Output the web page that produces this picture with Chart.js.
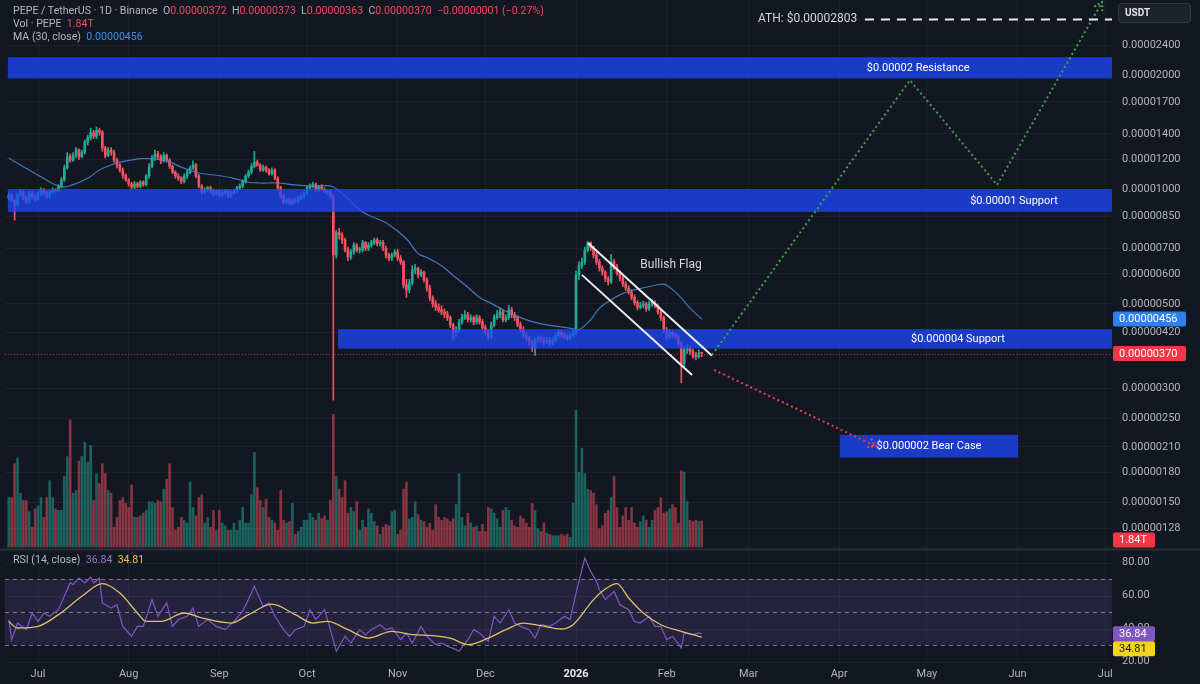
<!DOCTYPE html>
<html>
<head>
<meta charset="utf-8">
<title>PEPE / TetherUS 1D</title>
<script src="https://cdn.jsdelivr.net/npm/chart.js@4.4.1/dist/chart.umd.min.js"></script>
<style>
  html, body { margin:0; padding:0; background:#131722; }
  #wrap { position:relative; width:1200px; height:684px; overflow:hidden; background:#131722; }
  #c { position:absolute; left:0; top:0; }
  .hdr { position:absolute; left:13px; font-family: Roboto, "Noto Sans", sans-serif; font-size:10.6px; color:#b2b5be; white-space:nowrap; line-height:12px; }
  .rd { color:#ef4b5a; } .bl { color:#3d8fe8; } .pu { color:#9575cd; } .ye { color:#e8c547; }
</style>
</head>
<body>
<div id="wrap">
  <canvas id="c" width="1200" height="684"></canvas>
  <div class="hdr" style="top:5px">PEPE / TetherUS · 1D · Binance&nbsp; O<span class="rd">0.00000372</span>&nbsp; H<span class="rd">0.00000373</span>&nbsp; L<span class="rd">0.00000363</span>&nbsp; C<span class="rd">0.00000370</span>&nbsp; <span class="rd">−0.00000001 (−0.27%)</span></div>
  <div class="hdr" style="top:18px">Vol · PEPE&nbsp; <span class="rd">1.84T</span></div>
  <div class="hdr" style="top:31px">MA (30, close)&nbsp; <span class="bl">0.00000456</span></div>
  <div class="hdr" style="top:554px">RSI (14, close)&nbsp; <span class="pu">36.84</span>&nbsp; <span class="ye">34.81</span></div>
</div>
<script>
// ---------------- DATA (prices in micro-USDT, i.e. value x 1e-6) ----------------
// Day index: 0 = 1 Jul 2025. First candle = 21 Jun 2025, last = 13 Feb 2026.
const FIRST_DAY = -10;
const PRICE_UNIT = 1e-6;

const opens = [9.5, 9.67, 9.38, 9.10, 9.67, 9.85, 9.5, 9.27, 9.8, 9.6,
 9.45, 9.73, 9.97, 9.8, 9.6, 9.85, 9.97, 9.9, 10.2, 10.6,
 11.4, 12.2, 11.95, 12.3, 12.7, 12.2, 12.55, 13.3, 13.7, 14.1,
 13.8, 14.3, 14.15, 12.85, 12.3, 12.7, 12.55, 11.95, 11.6, 11.25,
 10.9, 10.6, 10.35, 10.15, 10.35, 10.2, 10.45, 10.3, 10.85, 11.5,
 12.1, 12.4, 12.2, 11.9, 12.3, 11.95, 11.5, 11.1, 10.85, 10.7,
 10.5, 10.85, 11.1, 11.4, 11.6, 10.85, 10.2, 9.85, 10.0, 10.1,
 9.9, 9.73, 9.85, 9.67, 9.8, 9.9, 9.6, 9.8, 9.9, 10.1,
 10.2, 10.5, 10.85, 11.1, 11.5, 11.8, 11.6, 11.25, 11.45, 11.25,
 11.0, 11.25, 10.7, 10.1, 9.6, 9.27, 9.38, 9.2, 9.38, 9.27,
 9.5, 9.6, 9.8, 10.1, 10.2, 10.3, 9.97, 10.15, 10.0, 9.85,
 9.85, 9.55, 6.72, 7.7, 7.6, 7.36, 6.93, 6.63, 6.85, 7.14,
 6.93, 6.93, 7.25, 7.0, 7.14, 7.25, 7.36, 7.2, 7.25, 7.0,
 6.72, 6.6, 6.72, 6.85, 6.6, 6.45, 5.61, 5.44, 5.68, 6.14,
 6.2, 5.96, 6.06, 5.78, 5.5, 5.18, 5.0, 4.9, 4.82, 4.76,
 4.7, 4.6, 4.40, 4.2, 4.27, 4.48, 4.6, 4.68, 4.54, 4.6,
 4.48, 4.6, 4.48, 4.33, 4.2, 4.1, 4.40, 4.6, 4.68, 4.76,
 4.54, 4.6, 4.82, 4.68, 4.6, 4.40, 4.27, 4.14, 4.06, 3.97,
 3.82, 4.02, 4.06, 4.02, 3.97, 4.02, 3.94, 4.02, 4.12, 4.2,
 4.14, 4.1, 4.06, 4.14, 4.2, 5.96, 6.3, 6.45, 6.93, 7.25,
 7.0, 6.72, 6.45, 6.2, 6.06, 5.82, 5.72, 6.45, 6.25, 6.02,
 5.85, 5.64, 5.5, 5.37, 5.2, 5.04, 4.9, 4.94, 5.0, 4.85,
 4.99, 5.04, 4.94, 4.76, 4.6, 4.27, 4.1, 4.2, 4.14, 4.1,
 3.94, 3.48, 3.78, 3.82, 3.74, 3.64, 3.63, 3.72];

const highs = [9.8, 9.75, 9.45, 9.75, 10.0, 9.95, 9.6, 9.9, 9.9, 9.7,
 9.85, 10.1, 10.05, 9.9, 9.95, 10.1, 10.05, 10.3, 10.75, 11.6,
 12.5, 12.4, 12.5, 12.9, 12.8, 12.7, 13.5, 13.9, 14.5, 14.3,
 14.6, 14.5, 14.3, 13.0, 12.9, 12.9, 12.7, 12.1, 11.7, 11.4,
 11.0, 10.7, 10.45, 10.5, 10.45, 10.55, 10.55, 10.95, 11.7, 12.3,
 12.7, 12.6, 12.35, 12.5, 12.4, 12.05, 11.6, 11.2, 11.0, 10.8,
 11.0, 11.25, 11.55, 11.9, 11.7, 10.95, 10.3, 10.1, 10.2, 10.2,
 10.0, 9.95, 9.95, 9.9, 10.0, 9.95, 9.9, 10.0, 10.2, 10.35,
 10.6, 10.95, 11.25, 11.7, 12.6, 11.95, 11.7, 11.6, 11.55, 11.35,
 11.4, 11.35, 10.8, 10.2, 9.7, 9.5, 9.5, 9.45, 9.5, 9.6,
 9.7, 9.9, 10.2, 10.35, 10.45, 10.4, 10.25, 10.3, 10.1, 10.0,
 9.95, 9.7, 7.8, 7.9, 7.7, 7.45, 7.05, 6.95, 7.25, 7.2,
 7.05, 7.35, 7.3, 7.25, 7.35, 7.45, 7.45, 7.35, 7.35, 7.1,
 6.8, 6.8, 6.95, 6.95, 6.7, 6.5, 5.8, 5.8, 6.3, 6.35,
 6.25, 6.15, 6.1, 5.85, 5.6, 5.25, 5.1, 5.0, 4.95, 4.85,
 4.78, 4.65, 4.45, 4.35, 4.55, 4.7, 4.8, 4.75, 4.68, 4.65,
 4.68, 4.66, 4.55, 4.4, 4.28, 4.48, 4.68, 4.8, 4.88, 4.82,
 4.68, 4.95, 4.9, 4.75, 4.65, 4.48, 4.35, 4.2, 4.12, 4.02,
 4.08, 4.12, 4.12, 4.08, 4.08, 4.08, 4.08, 4.18, 4.28, 4.25,
 4.2, 4.15, 4.2, 4.28, 6.1, 6.45, 6.6, 7.05, 7.3, 7.28,
 7.1, 6.85, 6.55, 6.3, 6.12, 5.9, 6.75, 6.55, 6.35, 6.1,
 5.92, 5.72, 5.58, 5.45, 5.28, 5.1, 5.05, 5.08, 5.05, 5.08,
 5.15, 5.1, 5.0, 4.82, 4.65, 4.33, 4.28, 4.25, 4.2, 4.15,
 3.98, 3.85, 3.9, 3.88, 3.8, 3.72, 3.78, 3.73];

const lows = [9.4, 9.3, 8.3, 9.05, 9.6, 9.4, 9.15, 9.2, 9.5, 9.35,
 9.4, 9.65, 9.7, 9.5, 9.5, 9.75, 9.8, 9.85, 10.1, 10.5,
 11.3, 11.8, 11.85, 12.1, 12.0, 12.1, 12.4, 13.1, 13.5, 13.6,
 13.6, 13.9, 12.6, 12.1, 12.2, 12.3, 11.8, 11.4, 11.1, 10.7,
 10.5, 10.2, 10.0, 10.05, 10.1, 10.1, 10.2, 10.2, 10.7, 11.4,
 11.9, 12.0, 11.7, 11.8, 11.8, 11.35, 11.0, 10.7, 10.55, 10.35,
 10.4, 10.7, 11.0, 11.3, 10.75, 10.1, 9.7, 9.75, 9.9, 9.8,
 9.6, 9.65, 9.55, 9.6, 9.7, 9.5, 9.5, 9.7, 9.8, 10.0,
 10.1, 10.4, 10.75, 11.0, 11.4, 11.5, 11.15, 11.15, 11.1, 10.9,
 10.9, 10.6, 10.0, 9.5, 9.15, 9.15, 9.1, 9.1, 9.2, 9.2,
 9.4, 9.5, 9.7, 10.0, 10.1, 9.9, 9.9, 9.95, 9.8, 9.7,
 9.45, 2.79, 6.6, 7.4, 7.2, 6.85, 6.5, 6.55, 6.75, 6.85,
 6.8, 6.85, 6.9, 6.9, 7.05, 7.15, 7.1, 7.1, 6.9, 6.6,
 6.5, 6.5, 6.65, 6.5, 6.35, 5.5, 5.2, 5.35, 5.6, 6.0,
 5.85, 5.9, 5.7, 5.4, 5.1, 4.9, 4.8, 4.75, 4.68, 4.6,
 4.52, 4.33, 4.02, 4.1, 4.2, 4.42, 4.55, 4.48, 4.48, 4.4,
 4.42, 4.42, 4.28, 4.12, 4.02, 4.05, 4.35, 4.55, 4.6, 4.48,
 4.48, 4.55, 4.6, 4.52, 4.35, 4.2, 4.08, 4.0, 3.9, 3.75,
 3.66, 3.95, 3.96, 3.9, 3.92, 3.88, 3.9, 3.98, 4.06, 4.08,
 4.04, 4.0, 4.02, 4.1, 4.15, 5.8, 6.2, 6.35, 6.85, 6.9,
 6.6, 6.35, 6.1, 5.95, 5.72, 5.6, 5.65, 6.15, 5.95, 5.75,
 5.55, 5.42, 5.3, 5.12, 4.96, 4.82, 4.85, 4.88, 4.78, 4.8,
 4.92, 4.88, 4.7, 4.52, 4.2, 4.02, 4.05, 4.08, 4.02, 3.88,
 3.1, 3.42, 3.7, 3.68, 3.6, 3.56, 3.6, 3.63];

const closes = [9.67, 9.38, 9.10, 9.67, 9.85, 9.5, 9.27, 9.8, 9.6, 9.45,
 9.73, 9.97, 9.8, 9.6, 9.85, 9.97, 9.9, 10.2, 10.6, 11.4,
 12.2, 11.95, 12.3, 12.7, 12.2, 12.55, 13.3, 13.7, 14.1, 13.8,
 14.3, 14.15, 12.85, 12.3, 12.7, 12.55, 11.95, 11.6, 11.25, 10.9,
 10.6, 10.35, 10.15, 10.35, 10.2, 10.45, 10.3, 10.85, 11.5, 12.1,
 12.4, 12.2, 11.9, 12.3, 11.95, 11.5, 11.1, 10.85, 10.7, 10.5,
 10.85, 11.1, 11.4, 11.6, 10.85, 10.2, 9.85, 10.0, 10.1, 9.9,
 9.73, 9.85, 9.67, 9.8, 9.9, 9.6, 9.8, 9.9, 10.1, 10.2,
 10.5, 10.85, 11.1, 11.5, 11.8, 11.6, 11.25, 11.45, 11.25, 11.0,
 11.25, 10.7, 10.1, 9.6, 9.27, 9.38, 9.2, 9.38, 9.27, 9.5,
 9.6, 9.8, 10.1, 10.2, 10.3, 9.97, 10.15, 10.0, 9.85, 9.85,
 9.55, 6.72, 7.7, 7.6, 7.36, 6.93, 6.63, 6.85, 7.14, 6.93,
 6.93, 7.25, 7.0, 7.14, 7.25, 7.36, 7.2, 7.25, 7.0, 6.72,
 6.6, 6.72, 6.85, 6.6, 6.45, 5.61, 5.44, 5.68, 6.14, 6.2,
 5.96, 6.06, 5.78, 5.5, 5.18, 5.0, 4.9, 4.82, 4.76, 4.7,
 4.6, 4.40, 4.2, 4.27, 4.48, 4.6, 4.68, 4.54, 4.6, 4.48,
 4.6, 4.48, 4.33, 4.2, 4.1, 4.40, 4.6, 4.68, 4.76, 4.54,
 4.6, 4.82, 4.68, 4.6, 4.40, 4.27, 4.14, 4.06, 3.97, 3.82,
 4.02, 4.06, 4.02, 3.97, 4.02, 3.94, 4.02, 4.12, 4.2, 4.14,
 4.1, 4.06, 4.14, 4.2, 5.96, 6.3, 6.45, 6.93, 7.25, 7.0,
 6.72, 6.45, 6.2, 6.06, 5.82, 5.72, 6.45, 6.25, 6.02, 5.85,
 5.64, 5.5, 5.37, 5.2, 5.04, 4.9, 4.94, 5.0, 4.85, 4.99,
 5.04, 4.94, 4.76, 4.6, 4.27, 4.1, 4.2, 4.14, 4.1, 3.94,
 3.48, 3.78, 3.82, 3.74, 3.64, 3.63, 3.72, 3.70];

// Volume in trillions of PEPE
const volumes = [3.5, 3.5, 5.9, 6.3, 3.8, 3.3, 3.3, 2.5, 1.4, 2.7, 2.9,
 3.5, 2.1, 3.5, 4.7, 3.5, 2.7, 2.6, 2.6, 5.0, 6.4,
 9.0, 3.8, 4.0, 6.1, 6.4, 7.4, 6.0, 7.2, 3.3, 5.2, 4.5,
 5.9, 5.2, 4.0, 3.8, 1.4, 2.1, 3.3, 3.5, 3.1, 2.8,
 4.4, 2.1, 2.1, 2.2, 2.4, 2.6, 3.2, 3.2, 3.1, 3.3, 3.2,
 4.1, 4.8, 5.9, 2.8, 1.2, 1.4, 2.1, 1.9, 1.7, 4.6, 2.8,
 2.2, 3.5, 3.7, 1.7, 2.1, 1.4, 2.6, 1.2, 2.6, 1.7, 1.5,
 1.2, 1.2, 1.7, 1.2, 1.9, 2.8, 1.7, 1.7, 3.7, 6.7, 4.2,
 3.3, 2.8, 3.4, 2.1, 1.9, 1.7, 1.2, 4.0, 1.9, 1.7, 1.8,
 3.1, 0.9, 1.1, 1.4, 1.9, 1.9, 2.4, 2.1, 1.9, 2.4, 2.0,
 2.2, 1.9, 3.3,
 9.4,
 5.0, 4.1, 3.5, 4.7, 2.4, 2.8, 2.5,
 3.2, 1.2, 1.9, 1.4, 2.7, 2.4, 1.8, 1.5, 0.9, 1.4, 1.6,
 1.5, 2.5, 2.6, 0.9, 1.2, 4.1, 4.6, 2.0, 2.1, 3.2, 2.3,
 1.9, 1.8, 1.4, 1.7, 1.2, 3.0, 2.1, 1.9, 2.1, 2.0, 1.8,
 2.0, 3.0, 5.2, 2.1, 1.5, 2.4, 1.7, 1.4, 1.5, 1.1, 1.6,
 1.1, 2.8, 2.7, 2.4, 2.0, 1.4, 2.6, 2.8, 2.6, 1.9, 1.5,
 1.4, 2.2, 2.0, 1.7, 1.4, 3.1, 2.6, 1.3, 1.1, 1.7, 1.0,
 0.9, 0.8, 0.8, 0.8, 0.9, 0.8, 0.9, 0.7, 3.1,
 9.7,
 5.3, 7.0, 5.2, 4.1, 4.0, 3.8, 3.0, 1.3, 1.5, 2.4, 2.6,
 3.5, 5.0, 2.8, 1.4, 2.2, 2.8, 1.9, 2.8, 1.7, 1.4, 1.8,
 2.2, 1.9, 1.4, 1.9, 2.6, 2.8, 3.5, 2.4, 2.5, 2.7, 3.0,
 2.8, 1.7, 5.4, 5.3, 3.2, 1.9, 1.8, 1.9, 1.8, 1.84];

// MA(30, close)
const maDays   = [-10, -6, 1, 8, 12, 17, 21, 25, 28, 35, 38, 44, 49, 55, 61, 67, 72, 76, 82, 87,
 94, 101, 111, 119, 126, 130, 133, 138, 142, 147, 151, 156, 160, 165, 169, 174, 179, 183, 185, 189,
 192, 196, 199, 204, 208, 213, 215, 219, 223, 227];
const maValues = [12.1, 11.6, 10.8, 10.15, 10.3, 10.7, 11.25, 11.6, 11.8, 12.05, 12.05, 11.9, 11.45, 11.05, 10.9, 10.7, 10.45, 10.4, 10.4, 10.3,
 10.2, 10.15, 8.73, 8.17, 7.42, 6.78, 6.62, 6.3, 5.94, 5.53, 5.2, 4.97, 4.78, 4.6, 4.49, 4.4, 4.35, 4.3, 4.27, 4.54,
 4.87, 5.12, 5.28, 5.44, 5.53, 5.63, 5.6, 5.28, 4.87, 4.56];

// RSI(14) and its moving average
const rsiDays = [-10, -9, -7, -4, -2, 0, 2, 4, 7, 9, 11, 12, 14, 16, 18, 19, 21, 22, 25, 27,
 29, 32, 34, 36, 39, 41, 44, 46, 48, 51, 53, 55, 58, 61, 64, 67, 70, 73, 74, 77,
 79, 81, 84, 86, 88, 91, 93, 95, 98, 100, 102, 105, 107, 110, 112, 114, 117, 119, 121, 124,
 126, 128, 131, 133, 136, 138, 140, 143, 144, 147, 149, 151, 154, 156, 158, 161, 163, 165, 168, 170,
 172, 175, 177, 180, 182, 184, 186, 187, 189, 191, 192, 194, 197, 199, 202, 204, 206, 209, 211, 213,
 215, 217, 220, 221, 224, 226, 227];
const rsiValues = [45.4, 33.2, 43.3, 39.3, 49.4, 44.3, 49.4, 47.4, 51.4, 59.5, 67.6, 66.6, 70.6, 67.6, 71.2, 67.6, 70.6, 55.5, 52.4, 54.4,
 41.3, 35.3, 41.3, 41.3, 57.5, 47.4, 55.5, 41.3, 45.4, 47.4, 52.4, 41.3, 45.4, 41.3, 39.3, 44.3, 50.4, 61.5, 65.6, 53.4,
 55.5, 47.4, 39.3, 35.3, 39.3, 41.3, 51.4, 45.4, 51.4, 39.3, 26.2, 35.3, 31.2, 39.3, 36.3, 39.3, 42.3, 39.3, 40.3, 33.2,
 37.3, 31.2, 41.3, 35.3, 30.2, 31.2, 29.2, 27.2, 26.2, 33.2, 39.3, 37.3, 32.2, 47.4, 43.3, 51.4, 43.3, 41.3, 39.3, 34.2,
 42.3, 41.3, 43.3, 47.4, 45.4, 61.5, 75.7, 82.7, 74.6, 68.6, 63.5, 57.5, 62.5, 54.4, 51.4, 44.3, 43.3, 47.4, 41.3, 41.3,
 33.2, 35.3, 28.2, 37.3, 36.3, 37.3, 36.84];
const rsiMaDays = [-10, -7, 0, 7, 15, 22, 28, 34, 37, 42, 50, 56, 66, 72, 80, 88, 94, 99, 106, 113,
 121, 128, 135, 141, 147, 154, 160, 166, 172, 179, 183, 190, 194, 198, 202, 207, 213, 220, 226, 227];
const rsiMaValues = [44.3, 40.3, 41.3, 48.4, 59.5, 67.2, 61.5, 49.4, 44.3, 44.3, 49.4, 46.4, 43.3, 48.4, 54.8, 48.4, 43.3, 44.3, 39.3, 34.2,
 38.3, 36.3, 35.7, 34.2, 30.2, 34.2, 39.3, 43.3, 41.7, 39.7, 42.3, 57.5, 63.9, 67.2, 58.5, 49.4, 42.3, 38.3, 35.3, 34.81];

// Drawn annotations (day, price)
const flagUpperDays = [188.1, 230.5], flagUpperValues = [7.23, 3.65];
const flagLowerDays = [186.0, 223.7], flagLowerValues = [5.96, 3.25];
const bullPathDays  = [230.5, 298.2, 328.0, 363.9], bullPathValues = [3.67, 19.4, 10.28, 31.1];
const bearPathDays  = [231.2, 286.6],               bearPathValues = [3.35, 2.11];

const ATH_PRICE = 28.03;
const LAST_MA = 4.56;
const RSI_LAST = 36.84, RSI_MA_LAST = 34.81;
const ZONES = [
  { label: '$0.00002 Resistance', lo: 19.6, hi: 22.3, from: -10.3, to: null, labelDay: 301.0 },
  { label: '$0.00001 Support',    lo: 8.73, hi: 10.03, from: -10.3, to: null, labelDay: 333.8 },
  { label: '$0.000004 Support',   lo: 3.81, hi: 4.29, from: 102.6, to: null, labelDay: 314.6 },
  { label: '$0.000002 Bear Case', lo: 1.97, hi: 2.26, from: 274.3, to: 335.2, labelDay: 304.7 }
];

// Axis ticks
const PRICE_TICKS = [24, 20, 17, 14, 12, 10, 8.5, 7, 6, 5, 4.2, 3, 2.5, 2.1, 1.8, 1.5, 1.28];
const RSI_TICKS = [80, 60, 40, 20];
const RSI_LEVELS = [70, 50, 30];
const MONTH_DAYS = [0, 31, 62, 92, 123, 153, 184, 215, 243, 274, 304, 335, 365];
const MONTH_LABELS = ['Jul', 'Aug', 'Sep', 'Oct', 'Nov', 'Dec', '2026', 'Feb', 'Mar', 'Apr', 'May', 'Jun', 'Jul'];

// ---------------- STYLE / LAYOUT ----------------
const BG = '#131722';
const UP = '#22ab94', DOWN = '#f7525f';
const VOL_UP = 'rgba(34,171,148,0.5)', VOL_DOWN = 'rgba(247,82,95,0.5)';
const AXIS_TEXT = '#b2b5be';
const GRID = 'rgba(255,255,255,0.045)';
const ZONE_COLOR = 'rgba(30,72,255,0.74)';
const FONT = "Roboto, 'Noto Sans', sans-serif";
const X_MIN = -11.29, X_MAX = 367.3;
const PRICE_MIN = 0.5706, PRICE_MAX = 31.53;
const VOL_MIN = -8.14, VOL_MAX = 38.73;
const RSI_MIN = 19.7, RSI_MAX = 420.9;
const RSI_PANE_TOP = 88;

Chart.defaults.font.family = FONT;

const dayIdx = closes.map((_, i) => FIRST_DAY + i);
const isUp = closes.map((c, i) => c >= opens[i]);
const pts = (xs, ys) => xs.map((x, i) => ({ x, y: ys[i] }));

const MA_INDEX = 3;

function drawZones(chart) {
  const { ctx, chartArea: a, scales } = chart;
  const xs = scales.x, ys = scales.y;
  ctx.save();
  ctx.beginPath(); ctx.rect(a.left, a.top, a.right - a.left, a.bottom - a.top); ctx.clip();
  ZONES.forEach(z => {
    const x0 = xs.getPixelForValue(z.from);
    const x1 = z.to === null ? a.right : xs.getPixelForValue(z.to);
    const y0 = ys.getPixelForValue(z.hi), y1 = ys.getPixelForValue(z.lo);
    ctx.fillStyle = ZONE_COLOR;
    ctx.fillRect(x0, y0, x1 - x0, y1 - y0);
    ctx.fillStyle = '#ffffff';
    ctx.font = '11px ' + FONT;
    ctx.textAlign = 'center'; ctx.textBaseline = 'middle';
    ctx.fillText(z.label, xs.getPixelForValue(z.labelDay), (y0 + y1) / 2 + 0.5);
  });
  ctx.restore();
}

function arrowHead(ctx, x0, y0, x1, y1, size, color) {
  const ang = Math.atan2(y1 - y0, x1 - x0);
  ctx.beginPath();
  ctx.moveTo(x1 - size * Math.cos(ang - 0.55), y1 - size * Math.sin(ang - 0.55));
  ctx.lineTo(x1, y1);
  ctx.lineTo(x1 - size * Math.cos(ang + 0.55), y1 - size * Math.sin(ang + 0.55));
  ctx.strokeStyle = color; ctx.lineWidth = 2; ctx.setLineDash([2, 2]);
  ctx.stroke();
}

function badge(ctx, x, yc, w, text, bg, fg) {
  ctx.fillStyle = bg;
  ctx.beginPath();
  if (ctx.roundRect) ctx.roundRect(x, yc - 7.5, w, 15, 2); else ctx.rect(x, yc - 7.5, w, 15);
  ctx.fill();
  ctx.fillStyle = fg;
  ctx.font = '11px ' + FONT;
  ctx.textAlign = 'left'; ctx.textBaseline = 'middle';
  ctx.fillText(text, x + 6, yc + 0.5);
}

const overlay = {
  id: 'overlay',
  beforeDraw(chart) {
    const { ctx, width, height } = chart;
    ctx.save(); ctx.fillStyle = BG; ctx.fillRect(0, 0, width, height); ctx.restore();
  },
  beforeDatasetsDraw(chart) {
    const { ctx, chartArea: a, scales } = chart;
    const r = scales.yRsi, ys = scales.y;
    ctx.save();
    // RSI background band 70-30
    const yU = r.getPixelForValue(RSI_LEVELS[0]), yL = r.getPixelForValue(RSI_LEVELS[2]);
    ctx.fillStyle = 'rgba(126,87,194,0.17)';
    ctx.fillRect(a.left, yU, a.right - a.left, yL - yU);
    // RSI faint grid
    ctx.strokeStyle = GRID; ctx.lineWidth = 1;
    RSI_TICKS.forEach(v => { const py = Math.round(r.getPixelForValue(v)) + 0.5; ctx.beginPath(); ctx.moveTo(a.left, py); ctx.lineTo(a.right, py); ctx.stroke(); });
    // RSI dashed levels
    ctx.strokeStyle = 'rgba(160,162,180,0.7)'; ctx.setLineDash([4, 4]);
    RSI_LEVELS.forEach(v => { const py = Math.round(r.getPixelForValue(v)) + 0.5; ctx.beginPath(); ctx.moveTo(a.left, py); ctx.lineTo(a.right, py); ctx.stroke(); });
    ctx.setLineDash([]);
    // pane separator
    const sp = Math.round(r.getPixelForValue(RSI_PANE_TOP)) + 0.5;
    ctx.strokeStyle = '#2a2e39'; ctx.lineWidth = 2;
    ctx.beginPath(); ctx.moveTo(0, sp); ctx.lineTo(chart.width, sp); ctx.stroke();
    // current price dotted line
    const py = Math.round(ys.getPixelForValue(closes[closes.length - 1])) + 0.5;
    ctx.strokeStyle = 'rgba(242,54,69,0.75)'; ctx.lineWidth = 1; ctx.setLineDash([1, 2]);
    ctx.beginPath(); ctx.moveTo(a.left, py); ctx.lineTo(a.right, py); ctx.stroke();
    ctx.restore();
  },
  afterDatasetDraw(chart, args) {
    if (args.index === MA_INDEX) drawZones(chart);
  },
  afterDatasetsDraw(chart) {
    const { ctx, chartArea: a, scales } = chart;
    const xs = scales.x, ys = scales.y;
    ctx.save();
    ctx.beginPath(); ctx.rect(a.left, a.top, a.right - a.left, a.bottom - a.top); ctx.clip();
    // ATH line
    const ay = ys.getPixelForValue(ATH_PRICE);
    ctx.strokeStyle = '#e8e8ee'; ctx.lineWidth = 2; ctx.setLineDash([9, 7]);
    ctx.beginPath(); ctx.moveTo(xs.getPixelForValue(282.8), ay); ctx.lineTo(a.right, ay); ctx.stroke();
    ctx.setLineDash([]);
    ctx.fillStyle = '#d1d4dc'; ctx.font = '12px ' + FONT; ctx.textAlign = 'right'; ctx.textBaseline = 'middle';
    ctx.fillText('ATH: $0.00002803', xs.getPixelForValue(280.2), ay);
    // Bullish flag label
    ctx.fillStyle = '#d8d9de'; ctx.font = '12px ' + FONT; ctx.textAlign = 'left';
    ctx.fillText('Bullish Flag', xs.getPixelForValue(206.0), ys.getPixelForValue(6.33));
    // arrowheads
    const n = bullPathDays.length;
    arrowHead(ctx, xs.getPixelForValue(bullPathDays[n - 2]), ys.getPixelForValue(bullPathValues[n - 2]),
      xs.getPixelForValue(bullPathDays[n - 1]), ys.getPixelForValue(bullPathValues[n - 1]), 9, '#3fa34d');
    arrowHead(ctx, xs.getPixelForValue(bearPathDays[0]), ys.getPixelForValue(bearPathValues[0]),
      xs.getPixelForValue(bearPathDays[1]), ys.getPixelForValue(bearPathValues[1]), 9, '#e8424f');
    ctx.restore();
  },
  afterDraw(chart) {
    const { ctx, chartArea: a, scales } = chart;
    const ys = scales.y, r = scales.yRsi, v = scales.yVol;
    const ax = a.right + 1;
    ctx.save();
    // RSI axis labels
    ctx.fillStyle = AXIS_TEXT; ctx.font = '11px ' + FONT; ctx.textAlign = 'left'; ctx.textBaseline = 'middle';
    RSI_TICKS.forEach(t => ctx.fillText(t.toFixed(2), a.right + 10, r.getPixelForValue(t)));
    // USDT box
    ctx.fillStyle = '#1e222d'; ctx.strokeStyle = 'rgba(255,255,255,0.12)'; ctx.lineWidth = 1;
    ctx.beginPath();
    if (ctx.roundRect) ctx.roundRect(a.right + 6.5, 3.5, 72, 19, 3); else ctx.rect(a.right + 6.5, 3.5, 72, 19);
    ctx.fill(); ctx.stroke();
    ctx.fillStyle = '#e0e3eb'; ctx.font = 'bold 10px ' + FONT;
    ctx.fillText('USDT', a.right + 13, 13.5);
    // price badges
    const fmt = p => (p * PRICE_UNIT).toFixed(8);
    badge(ctx, ax, ys.getPixelForValue(LAST_MA), 73, fmt(LAST_MA), '#2f7ff0', '#ffffff');
    badge(ctx, ax, ys.getPixelForValue(closes[closes.length - 1]), 73, fmt(closes[closes.length - 1]), '#f23645', '#ffffff');
    // volume badge, pinned to the bottom of the price pane
    badge(ctx, ax, v.getPixelForValue(0) - 7, 42, volumes[volumes.length - 1].toFixed(2) + 'T', '#f23645', '#ffffff');
    // RSI badges
    const rp = r.getPixelForValue(RSI_LAST);
    badge(ctx, ax, rp, 42, RSI_LAST.toFixed(2), '#7e57c2', '#ffffff');
    badge(ctx, ax, Math.max(r.getPixelForValue(RSI_MA_LAST), rp + 15), 42, RSI_MA_LAST.toFixed(2), '#f5d21c', '#1b1b1b');
    ctx.restore();
  }
};

const chart = new Chart(document.getElementById('c'), {
  type: 'line',
  data: {
    datasets: [
      { type: 'bar', label: 'Volume', yAxisID: 'yVol', order: 10, grouped: false, barThickness: 2,
        data: volumes.map((v, i) => ({ x: dayIdx[i], y: [0, v] })),
        backgroundColor: isUp.map(u => u ? VOL_UP : VOL_DOWN) },
      { type: 'bar', label: 'Wicks', yAxisID: 'y', order: 9, grouped: false, barThickness: 1,
        data: highs.map((h, i) => ({ x: dayIdx[i], y: [lows[i], h] })),
        backgroundColor: isUp.map(u => u ? UP : DOWN) },
      { type: 'bar', label: 'Bodies', yAxisID: 'y', order: 8, grouped: false, barThickness: 2, minBarLength: 1,
        data: closes.map((c, i) => ({ x: dayIdx[i], y: [Math.min(opens[i], c), Math.max(opens[i], c)] })),
        backgroundColor: isUp.map(u => u ? UP : DOWN) },
      { type: 'line', label: 'MA 30', yAxisID: 'y', order: 7, data: pts(maDays, maValues),
        borderColor: 'rgba(72,138,214,0.85)', borderWidth: 1.2, pointRadius: 0, tension: 0.35 },
      { type: 'line', label: 'RSI', yAxisID: 'yRsi', order: 6, data: pts(rsiDays, rsiValues),
        borderColor: '#7e57c2', borderWidth: 1.2, pointRadius: 0, tension: 0 },
      { type: 'line', label: 'RSI MA', yAxisID: 'yRsi', order: 5, data: pts(rsiMaDays, rsiMaValues),
        borderColor: '#dcc06a', borderWidth: 1.3, pointRadius: 0, cubicInterpolationMode: 'monotone' },
      { type: 'line', label: 'Flag upper', yAxisID: 'y', order: 4, data: pts(flagUpperDays, flagUpperValues),
        borderColor: 'rgba(255,255,255,0.92)', borderWidth: 2, pointRadius: 0 },
      { type: 'line', label: 'Flag lower', yAxisID: 'y', order: 4, data: pts(flagLowerDays, flagLowerValues),
        borderColor: 'rgba(255,255,255,0.92)', borderWidth: 2, pointRadius: 0 },
      { type: 'line', label: 'Bull path', yAxisID: 'y', order: 3, data: pts(bullPathDays, bullPathValues),
        borderColor: '#3fa34d', borderWidth: 2, borderDash: [2, 3], pointRadius: 0 },
      { type: 'line', label: 'Bear path', yAxisID: 'y', order: 3, data: pts(bearPathDays, bearPathValues),
        borderColor: '#e8424f', borderWidth: 2, borderDash: [2, 3], pointRadius: 0 }
    ]
  },
  options: {
    responsive: false,
    animation: false,
    devicePixelRatio: 1,
    events: [],
    layout: { padding: { left: 5, top: 0, right: 0, bottom: 0 }, autoPadding: false },
    plugins: { legend: { display: false }, tooltip: { enabled: false } },
    scales: {
      x: {
        type: 'linear', axis: 'x', min: X_MIN, max: X_MAX, offset: false, bounds: 'data',
        afterBuildTicks: s => { s.ticks = MONTH_DAYS.map(v => ({ value: v })); },
        afterFit: s => { s.height = 22; s.paddingLeft = 0; s.paddingRight = 0; },
        ticks: {
          autoSkip: false, maxRotation: 0, padding: 6,
          callback: v => MONTH_LABELS[MONTH_DAYS.indexOf(v)],
          color: ctx => (ctx.tick && ctx.tick.value === 184) ? '#e8e9ee' : AXIS_TEXT,
          font: ctx => ({ family: FONT, size: 11, weight: (ctx.tick && ctx.tick.value === 184) ? 'bold' : 'normal' })
        },
        grid: { color: GRID, drawTicks: false, offset: false },
        border: { display: false }
      },
      y: {
        type: 'logarithmic', axis: 'y', position: 'right', min: PRICE_MIN, max: PRICE_MAX,
        afterBuildTicks: s => { s.ticks = PRICE_TICKS.map(v => ({ value: v })); },
        afterFit: s => { s.width = 88; s.paddingTop = 0; s.paddingBottom = 0; },
        ticks: { autoSkip: false, padding: 10, color: AXIS_TEXT, font: { size: 11 },
                 callback: v => (v * PRICE_UNIT).toFixed(8) },
        grid: { color: GRID, drawTicks: false },
        border: { display: false }
      },
      yVol: { type: 'linear', axis: 'y', position: 'right', display: false, min: VOL_MIN, max: VOL_MAX },
      yRsi: { type: 'linear', axis: 'y', position: 'right', display: false, min: RSI_MIN, max: RSI_MAX }
    }
  },
  plugins: [overlay]
});
</script>
</body>
</html>
